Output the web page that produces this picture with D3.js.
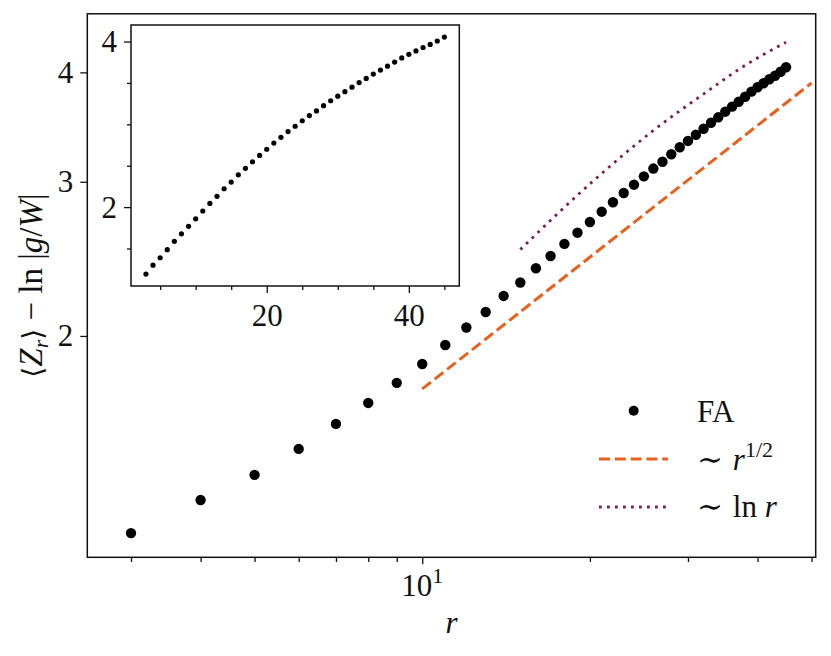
<!DOCTYPE html>
<html>
<head>
<meta charset="utf-8">
<script src="https://cdn.jsdelivr.net/npm/d3@7"></script>
<style>
body { margin: 0; background: #fff; }
text { font-family: "Liberation Serif", "DejaVu Serif", serif; fill: #111; }
</style>
</head>
<body>
<svg id="chart" width="831" height="656"></svg>
<script>
// FA data: r and <Z_r> - ln|g/W|
var radii = [3, 4, 5, 6, 7, 8, 9, 10, 11, 12, 13, 14, 15, 16, 17, 18, 19, 20, 21, 22, 23, 24,
    25, 26, 27, 28, 29, 30, 31, 32, 33, 34, 35, 36, 37, 38, 39, 40, 41, 42, 43, 44, 45];
var zValues = [1.191, 1.299, 1.388, 1.486, 1.587, 1.677, 1.768, 1.858, 1.953, 2.045, 2.130,
    2.222, 2.302, 2.390, 2.468, 2.548, 2.624, 2.699, 2.773, 2.843, 2.913, 2.977, 3.043, 3.106,
    3.162, 3.225, 3.285, 3.340, 3.395, 3.449, 3.504, 3.554, 3.607, 3.655, 3.703, 3.752, 3.802,
    3.846, 3.887, 3.928, 3.965, 4.007, 4.054];
// guide lines
var sqrtGuideR = [10, 50];
var sqrtGuideV = [1.74, 3.89];
var lnGuideR = [15, 20.2, 26.1, 32.4, 37.2, 45];
var lnGuideV = [2.51, 3.00, 3.44, 3.80, 4.04, 4.33];
// ticks
var mainXMajor = [10];
var mainXMinor = [3, 4, 5, 6, 7, 8, 9, 20, 30, 40, 50];
var mainYTicks = [2, 3, 4];
var insetXMajor = [20, 40];
var insetXMinor = [5, 10, 15, 25, 30, 35, 45];
var insetYMajor = [2, 4];
var insetYMinor = [1.5, 2.5, 3, 3.5];

var points = radii.map(function (r, i) { return { r: r, v: zValues[i] }; });
var sqrtGuide = sqrtGuideR.map(function (r, i) { return { r: r, v: sqrtGuideV[i] }; });
var lnGuide = lnGuideR.map(function (r, i) { return { r: r, v: lnGuideV[i] }; });

var orange = "#e8601c", purple = "#7b1e56", ink = "#111";
var fs = 31;

var svg = d3.select("#chart");
svg.append("rect").attr("width", 831).attr("height", 656).attr("fill", "#fff");

// main axes
var mLeft = 87.3, mRight = 815.7, mTop = 13.8, mBottom = 557.3;
var x = d3.scaleLog().domain([2.504, 50.87]).range([mLeft, mRight]);
var y = d3.scaleLog().domain([1.1175, 4.666]).range([mBottom, mTop]);

function tidy(g) {
    g.select(".domain").remove();
    g.selectAll("line").attr("stroke", ink).attr("stroke-width", 1.3);
    g.attr("font-size", fs);
}

svg.append("g")
    .attr("transform", "translate(0," + mBottom + ")")
    .call(d3.axisBottom(x).tickValues(mainXMinor).tickSize(4.7).tickFormat(""))
    .call(tidy);
svg.append("g")
    .attr("transform", "translate(0," + mBottom + ")")
    .call(d3.axisBottom(x).tickValues(mainXMajor).tickSize(7).tickFormat(""))
    .call(tidy);
var tenLabel = svg.append("text")
    .attr("x", x(10))
    .attr("y", 596)
    .attr("text-anchor", "middle")
    .attr("font-size", fs);
tenLabel.append("tspan").text("10");
tenLabel.append("tspan").attr("font-size", 22).attr("dy", -13).text("1");

svg.append("g")
    .attr("transform", "translate(" + mLeft + ",0)")
    .call(d3.axisLeft(y).tickValues(mainYTicks).tickSize(7).tickPadding(7).tickFormat(d3.format("d")))
    .call(tidy);

// guide lines
var line = d3.line()
    .x(function (d) { return x(d.r); })
    .y(function (d) { return y(d.v); })
    .curve(d3.curveMonotoneX);

svg.append("path")
    .datum(sqrtGuide)
    .attr("d", line)
    .attr("fill", "none")
    .attr("stroke", orange)
    .attr("stroke-width", 3)
    .attr("stroke-dasharray", "11 4.8");
svg.append("path")
    .datum(lnGuide)
    .attr("d", line)
    .attr("fill", "none")
    .attr("stroke", purple)
    .attr("stroke-width", 2.8)
    .attr("stroke-dasharray", "2.8 5.2");

svg.append("g")
    .selectAll("circle")
    .data(points)
    .enter()
    .append("circle")
    .attr("cx", function (d) { return x(d.r); })
    .attr("cy", function (d) { return y(d.v); })
    .attr("r", 5.2)
    .attr("fill", "#000");

svg.append("rect")
    .attr("x", mLeft).attr("y", mTop)
    .attr("width", mRight - mLeft).attr("height", mBottom - mTop)
    .attr("fill", "none").attr("stroke", ink).attr("stroke-width", 1.5);

// axis titles
svg.append("text")
    .attr("x", (mLeft + mRight) / 2)
    .attr("y", 633)
    .attr("text-anchor", "middle")
    .attr("font-size", fs)
    .attr("font-style", "italic")
    .text("r");

var yTitle = svg.append("text")
    .attr("transform", "translate(42," + ((mTop + mBottom) / 2) + ") rotate(-90)")
    .attr("text-anchor", "middle")
    .attr("font-size", 33);
yTitle.append("tspan").attr("font-family", "DejaVu Serif").attr("font-size", 28).text("\u27e8");
yTitle.append("tspan").attr("font-style", "italic").text("Z");
yTitle.append("tspan").attr("font-style", "italic").attr("font-size", 22).attr("dy", 6).text("r");
yTitle.append("tspan").attr("font-family", "DejaVu Serif").attr("font-size", 28).attr("dy", -6).text("\u27e9");
yTitle.append("tspan").text(" \u2212 ln ");
yTitle.append("tspan").text("|");
yTitle.append("tspan").attr("font-style", "italic").text("g");
yTitle.append("tspan").text("/");
yTitle.append("tspan").attr("font-style", "italic").text("W");
yTitle.append("tspan").text("|");

// legend
var legend = svg.append("g");
legend.append("circle").attr("cx", 633.7).attr("cy", 410.7).attr("r", 5).attr("fill", "#000");
legend.append("line")
    .attr("x1", 599).attr("x2", 668).attr("y1", 459).attr("y2", 459)
    .attr("stroke", orange).attr("stroke-width", 3).attr("stroke-dasharray", "11 4.8");
legend.append("line")
    .attr("x1", 599).attr("x2", 668).attr("y1", 507).attr("y2", 507)
    .attr("stroke", purple).attr("stroke-width", 2.8).attr("stroke-dasharray", "2.8 5.2");
legend.append("text").attr("x", 697).attr("y", 422).attr("font-size", fs).text("FA");
var l2 = legend.append("text").attr("x", 697).attr("y", 470).attr("font-size", fs);
l2.append("tspan").attr("font-family", "DejaVu Serif").text("\u223c ");
l2.append("tspan").attr("font-style", "italic").text("r");
l2.append("tspan").attr("font-size", 22).attr("dy", -13).text("1/2");
var l3 = legend.append("text").attr("x", 697).attr("y", 517).attr("font-size", fs);
l3.append("tspan").attr("font-family", "DejaVu Serif").text("\u223c ");
l3.append("tspan").text("ln ");
l3.append("tspan").attr("font-style", "italic").text("r");

// inset
var iLeft = 131, iRight = 459.3, iTop = 25, iBottom = 286;
var x2 = d3.scaleLinear().domain([0.9, 47.1]).range([iLeft, iRight]);
var y2 = d3.scaleLinear().domain([1.047, 4.2]).range([iBottom, iTop]);

svg.append("rect")
    .attr("x", iLeft).attr("y", iTop)
    .attr("width", iRight - iLeft).attr("height", iBottom - iTop)
    .attr("fill", "#fff");

svg.append("g")
    .attr("transform", "translate(0," + iBottom + ")")
    .call(d3.axisBottom(x2).tickValues(insetXMinor).tickSize(4).tickFormat(""))
    .call(tidy);
svg.append("g")
    .attr("transform", "translate(0," + iBottom + ")")
    .call(d3.axisBottom(x2).tickValues(insetXMajor).tickSize(7).tickPadding(11).tickFormat(d3.format("d")))
    .call(tidy);
svg.append("g")
    .attr("transform", "translate(" + iLeft + ",0)")
    .call(d3.axisLeft(y2).tickValues(insetYMinor).tickSize(4).tickFormat(""))
    .call(tidy);
svg.append("g")
    .attr("transform", "translate(" + iLeft + ",0)")
    .call(d3.axisLeft(y2).tickValues(insetYMajor).tickSize(7).tickPadding(7).tickFormat(d3.format("d")))
    .call(tidy);

svg.append("g")
    .selectAll("circle")
    .data(points)
    .enter()
    .append("circle")
    .attr("cx", function (d) { return x2(d.r); })
    .attr("cy", function (d) { return y2(d.v); })
    .attr("r", 2.6)
    .attr("fill", "#000");

svg.append("rect")
    .attr("x", iLeft).attr("y", iTop)
    .attr("width", iRight - iLeft).attr("height", iBottom - iTop)
    .attr("fill", "none").attr("stroke", ink).attr("stroke-width", 1.5);
</script>
</body>
</html>
